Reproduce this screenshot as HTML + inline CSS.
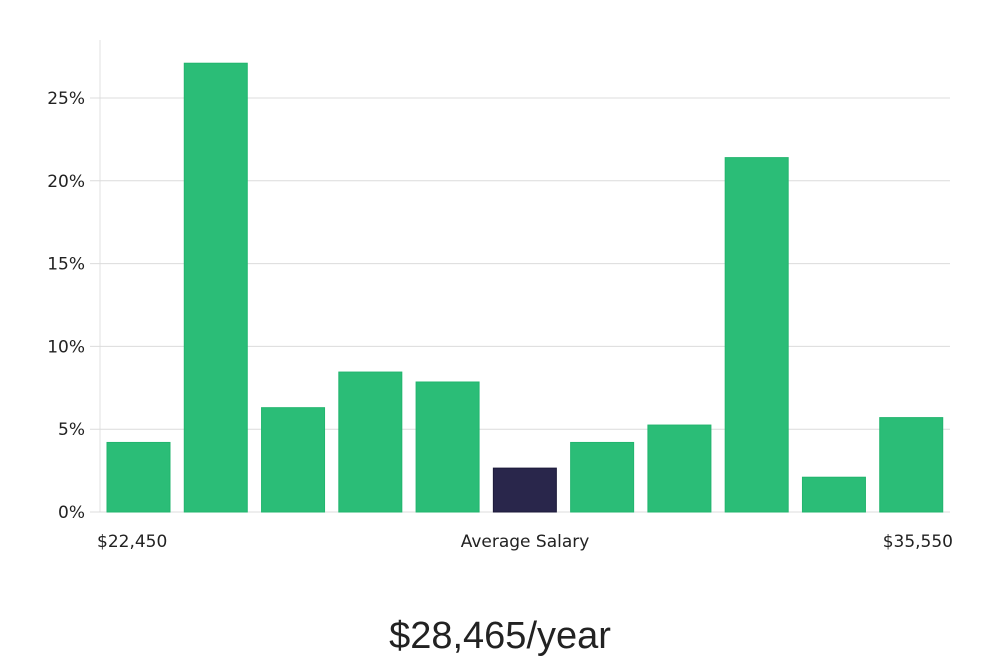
<!DOCTYPE html>
<html><head><meta charset="utf-8"><style>
body{margin:0;background:#fff;width:1000px;height:660px;overflow:hidden;font-family:"DejaVu Sans","Liberation Sans",sans-serif}
</style></head><body>
<svg id="chart" width="1000" height="660" xmlns="http://www.w3.org/2000/svg"></svg>
<script>
const categories=["b1","b2","b3","b4","b5","b6","b7","b8","b9","b10","b11"];
const values=[4.2,27.1,6.3,8.45,7.85,2.65,4.2,5.25,21.4,2.1,5.7];
const highlightIndex=5;
const yTicks=[0,5,10,15,20,25];
const yTickLabels=["0%","5%","10%","15%","20%","25%"];
const xLabels=["$22,450","Average Salary","$35,550"];
const title="$28,465/year";

const svg=document.getElementById('chart');
const NS="http://www.w3.org/2000/svg";
const left=100,right=950,y0=512,pxPer=16.56;
const y=v=>y0-v*pxPer;
const step=(right-left)/categories.length;
const x=i=>left+i*step+7;
const bw=63;
function mk(tag,attrs){const e=document.createElementNS(NS,tag);for(const k in attrs)e.setAttribute(k,attrs[k]);svg.appendChild(e);return e;}

const ax=mk('line',{x1:left,x2:left,y1:40,y2:y0,stroke:'#e0e0e0','stroke-width':1});


yTicks.forEach((t,i)=>{
  const g=mk('line',{x1:90,x2:right,y1:y(t),y2:y(t),stroke:'#dcdcdc','stroke-width':1});
  
  
  const tx=mk('text',{x:85,y:y(t)+6,'text-anchor':'end','font-size':17,fill:'#222'});
  tx.textContent=yTickLabels[i];
  
  
});
values.forEach((v,i)=>{
  const r=mk('rect',{x:x(i),y:y(v),width:bw,height:v*pxPer,fill:i===highlightIndex?'#29264b':'#2bbd77',stroke:i===highlightIndex?'#1c1a3a':'#22b56e','stroke-width':1});
  
  
});
const xl=[[97,'start'],[525,'middle'],[953,'end']];
xLabels.forEach((s,i)=>{
  const t=mk('text',{x:xl[i][0],y:547,'text-anchor':xl[i][1],'font-size':17,fill:'#222'});
  t.textContent=s;
  
  
});
const tt=mk('text',{x:500,y:648,'text-anchor':'middle','font-size':38,fill:'#222','font-family':'Liberation Sans, sans-serif'});
tt.textContent=title;


</script>
</body></html>
